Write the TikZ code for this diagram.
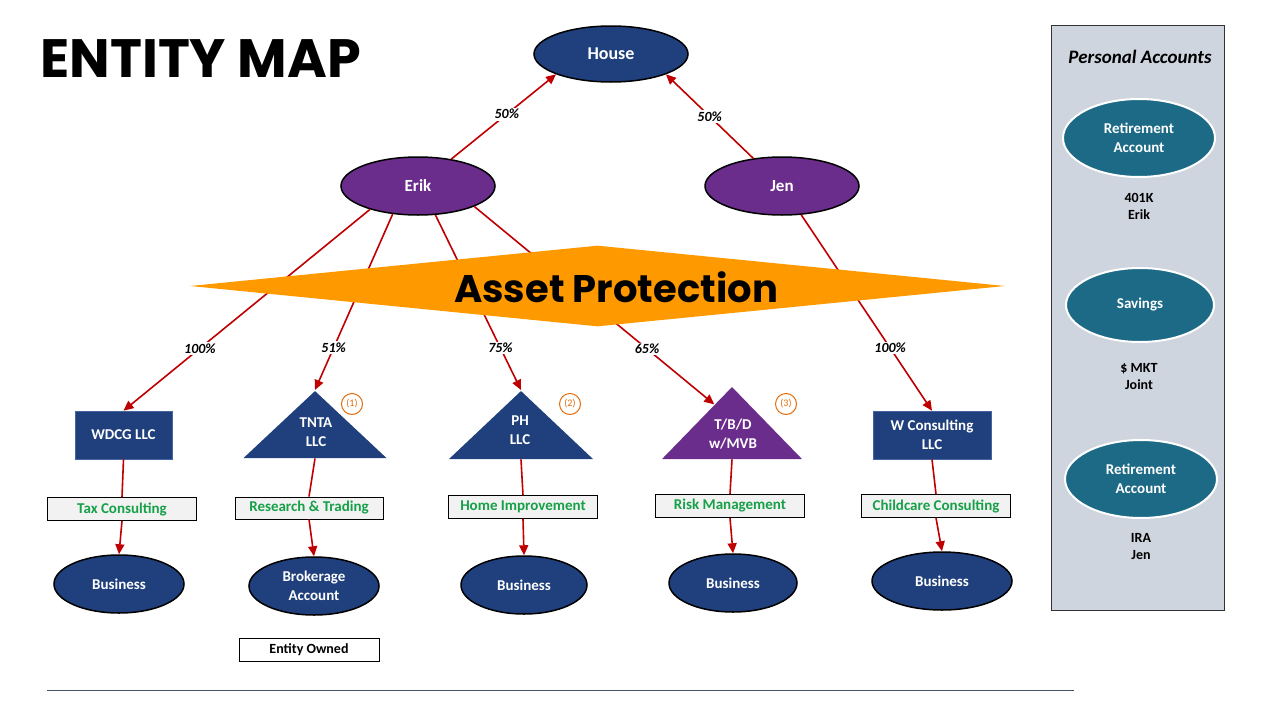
\documentclass[tikz,border=0pt]{standalone}
\usepackage{fontspec}
\setmainfont{Carlito}
\newfontfamily\headfont{Poppins}
\usetikzlibrary{shapes.geometric,arrows.meta,calc}

\definecolor{entblue}{RGB}{31,64,124}
\definecolor{entpurple}{RGB}{106,45,140}
\definecolor{acctteal}{RGB}{29,106,135}
\definecolor{shieldorange}{RGB}{255,153,0}
\definecolor{linkred}{RGB}{192,0,0}
\definecolor{bizgreen}{RGB}{22,160,72}
\definecolor{noteorange}{RGB}{228,108,10}
\definecolor{panelgray}{RGB}{207,213,222}
\definecolor{boxgray}{RGB}{242,242,242}
\definecolor{rulegray}{RGB}{68,84,106}

\begin{document}
\begin{tikzpicture}[x=1pt, y=-1pt, line width=0.8pt,
  own/.style={draw=linkred, line width=1.6pt, -{Triangle[length=10pt,width=9pt]}},
  link/.style={draw=linkred, line width=1.6pt},
  pct/.style={fill=white, inner sep=1.5pt, font=\fontsize{14}{16}\selectfont\bfseries\itshape},
  person/.style={ellipse, draw=black, line width=1.5pt, fill=entpurple, text=white, inner sep=0pt,
    minimum width=154, minimum height=58, font=\fontsize{17}{20}\selectfont\bfseries},
  holding/.style={ellipse, draw=black, line width=1.5pt, fill=entblue, text=white, inner sep=0pt,
    minimum height=58, align=center, font=\fontsize{15}{19}\selectfont\bfseries},
  llc/.style={rectangle, draw={rgb,255:red,70;green,100;blue,160}, line width=0.6pt, fill=entblue,
    text=white, align=center, font=\fontsize{15}{19}\selectfont\bfseries},
  trust/.style={isosceles triangle, shape border rotate=90, isosceles triangle stretches,
    inner sep=0pt, fill=entblue, anchor=apex},
  trusttext/.style={text=white, align=center, inner sep=0pt, font=\fontsize{15}{19}\selectfont\bfseries},
  note/.style={circle, draw=noteorange, line width=1pt, minimum size=21, inner sep=0pt,
    text=noteorange, font=\fontsize{10}{12}\selectfont},
  biz/.style={rectangle, draw=black, line width=0.8pt, fill=boxgray, minimum width=149, minimum height=23,
    inner sep=0pt, text=bizgreen, font=\fontsize{15}{17}\selectfont\bfseries},
  acct/.style={ellipse, draw=white, line width=2pt, fill=acctteal, text=white, inner sep=0pt,
    align=center, font=\fontsize{15}{19}\selectfont\bfseries},
  acctnote/.style={align=center, font=\fontsize{14}{17}\selectfont\bfseries}]
  \useasboundingbox (0,0) rectangle (1280,720);

  % title
  \node[anchor=west, inner sep=0pt, font=\headfont\bfseries\fontsize{54}{60}\selectfont] (title) at (40,59) {ENTITY MAP};

  % owners
  \node[holding, minimum width=154, minimum height=56, font=\fontsize{18}{20}\selectfont\bfseries] (house) at (611,54) {House};
  \node[person] (erik) at (418,186) {Erik};
  \node[person] (jen) at (782,186) {Jen};

  % entities
  \node[llc, minimum width=97, minimum height=48] (wdcg) at (123.5,435) {WDCG LLC};
  \node[trust, minimum width=143, minimum height=67] (tnta) at (315,390) {};
  \node[trust, minimum width=144, minimum height=68] (ph) at (521,390) {};
  \node[trust, fill=entpurple, minimum width=140, minimum height=72] (tbd) at (732,386) {};
  \node[trusttext] (tntatext) at (316,432) {TNTA\\LLC};
  \node[trusttext] (phtext) at (520,430) {PH\\LLC};
  \node[trusttext] (tbdtext) at (733,434) {T/B/D\\w/MVB};
  \node[llc, minimum width=118, minimum height=48] (wcon) at (932,435) {W Consulting\\LLC};
  \node[note] (n1) at (352,404) {(1)};
  \node[note] (n2) at (570,404) {(2)};
  \node[note] (n3) at (786,404) {(3)};

  % lines of business
  \node[biz] (taxc) at (122,509) {Tax Consulting};
  \node[biz, minimum width=148, minimum height=22] (rtrade) at (309,508) {Research \& Trading};
  \node[biz] (homei) at (523,507) {Home Improvement};
  \node[biz] (riskm) at (730,506) {Risk Management};
  \node[biz] (childc) at (936,506) {Childcare Consulting};

  % businesses
  \node[holding, minimum width=130] (bus1) at (119,584) {Business};
  \node[holding, minimum width=130] (brok) at (314,586) {Brokerage\\Account};
  \node[holding, minimum width=126] (bus3) at (524,585) {Business};
  \node[holding, minimum width=128] (bus4) at (733,583) {Business};
  \node[holding, minimum width=140] (bus5) at (942,581) {Business};
  \node[draw=black, line width=0.8pt, fill=white, minimum width=140, minimum height=23, inner sep=0pt,
    font=\fontsize{14}{16}\selectfont\bfseries] (owned) at (309,650) {Entity Owned};

  % ownership
  \draw[own] (erik) -- (house.south west) node[pct, pos=0.53] {50\%};
  \draw[own] (jen) -- (house.south east) node[pct, pos=0.5] {50\%};
  \draw[own] (erik.-154) -- (wdcg.north) node[pct, pos=0.69] {100\%};
  \draw[own] (erik.-132) -- (tnta.apex) node[pct, pos=0.76] {51\%};
  \draw[own] (erik.-59) -- (ph.apex) node[pct, pos=0.76] {75\%};
  \draw[own] (erik.-20) -- ($(tbd.apex)!0.25!(tbd.left corner)$) node[pct, pos=0.72] {65\%};
  \draw[own] (jen) -- (wcon.north) node[pct, pos=0.68] {100\%};

  % entity to business
  \foreach \ent/\line/\bus in {wdcg/taxc/bus1, tnta/rtrade/brok, ph/homei/bus3, tbd/riskm/bus4, wcon/childc/bus5} {
    \draw[link] (\ent.south) -- (\line.north);
    \draw[own] (\line.south) -- (\bus.north);
  }

  % asset protection band
  \node[diamond, fill=shieldorange, minimum width=815, minimum height=81, inner sep=0pt] (shield) at (597.5,286) {};
  \node[font=\headfont\bfseries\fontsize{38.5}{44}\selectfont, inner sep=0pt] (shieldtext) at (616,287) {Asset Protection};

  % personal accounts
  \node[draw=black!80, line width=0.8pt, fill=panelgray, minimum width=173, minimum height=585, inner sep=0pt] (panel) at (1137.5,317.5) {};
  \node[font=\fontsize{19}{22}\selectfont\bfseries\itshape] (ptitle) at (1140,57) {Personal Accounts};
  \node[acct, minimum width=152, minimum height=78] (ret1) at (1139,138) {Retirement\\Account};
  \node[acctnote] (k401) at (1139,206) {401K\\Erik};
  \node[acct, minimum width=148, minimum height=74] (sav) at (1140,305) {Savings};
  \node[acctnote] (mkt) at (1139,377) {\$ MKT\\Joint};
  \node[acct, minimum width=152, minimum height=78] (ret2) at (1141,479) {Retirement\\Account};
  \node[acctnote] (ira) at (1141,547) {IRA\\Jen};

  % footer rule
  \draw[rulegray, line width=1pt] (47,690) -- (1074,690);
\end{tikzpicture}
\end{document}
